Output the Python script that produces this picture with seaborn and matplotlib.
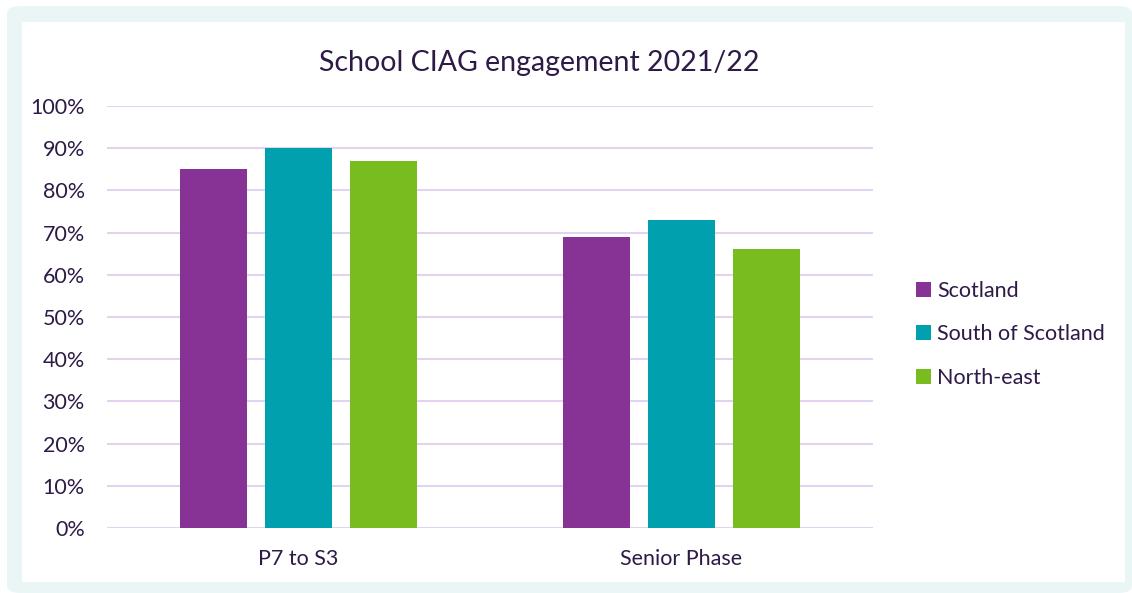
import pandas as pd
import matplotlib.pyplot as plt
import seaborn as sns
from matplotlib.patches import FancyBboxPatch, Rectangle
from matplotlib.ticker import PercentFormatter

# data
stages = ['P7 to S3', 'Senior Phase']
regions = ['Scotland', 'South of Scotland', 'North-east']
scotland = [85, 69]
south_of_scotland = [90, 73]
north_east = [87, 66]

colors = ['#873295', '#00A0AE', '#78BC20']
text_col = '#2E1A47'
grid_col = '#E2D3F0'

df = pd.DataFrame({
    'stage': stages * 3,
    'region': [r for r in regions for _ in stages],
    'value': scotland + south_of_scotland + north_east,
})

sns.set_theme(style='white')
plt.rcParams['font.family'] = ['Lato', 'DejaVu Sans']

fig = plt.figure(figsize=(11.32, 5.93), dpi=100)
fig.patch.set_facecolor('white')

# teal frame and white card behind the chart
fig.patches.append(FancyBboxPatch((7 / 1132, 0), 1 - 7 / 1132, 1 - 6 / 593,
                                  boxstyle='round,pad=0,rounding_size=0.012',
                                  transform=fig.transFigure, facecolor='#EAF6F6',
                                  edgecolor='none', zorder=-2))
fig.patches.append(Rectangle((22 / 1132, 11 / 593), (1125 - 22) / 1132, (582 - 22) / 593,
                             transform=fig.transFigure, facecolor='white',
                             edgecolor='none', zorder=-1))

ax = fig.add_axes([107 / 1132, 1 - 528 / 593, 766 / 1132, 422 / 593])
ax.set_facecolor('none')

sns.barplot(data=df, x='stage', y='value', hue='region', order=stages,
            hue_order=regions, palette=colors, width=0.666, gap=0.21,
            saturation=1, linewidth=0, ax=ax, zorder=3)

ax.set_ylim(0, 100)
ax.set_yticks(range(0, 101, 10))
ax.yaxis.set_major_formatter(PercentFormatter(decimals=0))
ax.grid(axis='y', color=grid_col, linewidth=1.5, zorder=0)
ax.set_axisbelow(True)
for s in ax.spines.values():
    s.set_visible(False)
ax.tick_params(axis='both', length=0, labelsize=15.5, colors=text_col)
ax.tick_params(axis='y', pad=16)
ax.tick_params(axis='x', pad=15)
ax.set_xlabel('')
ax.set_ylabel('')

handles, labels = ax.get_legend_handles_labels()
ax.get_legend().remove()
fig.legend(handles, labels, loc='center left', bbox_to_anchor=(0.800, 0.436),
           frameon=False, fontsize=15.5, labelcolor=text_col, borderpad=0,
           handlelength=0.7, handleheight=0.7, handletextpad=0.25,
           labelspacing=1.1)

fig.text(539 / 1132, 1 - 63 / 593, 'School CIAG engagement 2021/22', ha='center',
         va='center', fontsize=20.5, color=text_col)

fig.savefig('out.png', dpi=100)
